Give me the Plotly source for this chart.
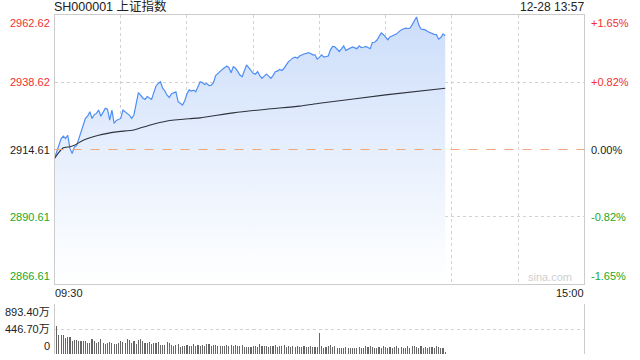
import plotly.graph_objects as go

# ---------------- data ----------------
title_text = "SH000001 上证指数"
stamp_text = "12-28 13:57"
time_labels = ["09:30", "15:00"]
prev_close = 2914.61
price_levels = [2866.61, 2890.61, 2914.61, 2938.62, 2962.62]
left_labels = ["2866.61", "2890.61", "2914.61", "2938.62", "2962.62"]
right_labels = ["-1.65%", "-0.82%", "0.00%", "+0.82%", "+1.65%"]
vol_levels = [0, 446.70, 893.40]
vol_labels = ["0", "446.70万", "893.40万"]

# minute-by-minute index price (09:30 .. 11:30, 13:01 .. 13:57)
price = [
    2911.4, 2914.0, 2916.0, 2918.5, 2919.4, 2918.5, 2919.7, 2915.0, 2913.2, 2915.5,
    2916.0, 2918.5, 2920.5, 2922.7, 2925.7, 2926.5, 2928.1, 2925.7, 2927.0, 2927.5,
    2928.7, 2926.5, 2927.8, 2929.3, 2929.0, 2925.1, 2928.7, 2923.9, 2925.0, 2925.3,
    2925.7, 2928.7, 2928.0, 2927.5, 2926.8, 2925.7, 2927.0, 2931.0, 2934.9, 2934.0,
    2933.0, 2932.5, 2933.5, 2933.0, 2932.5, 2935.0, 2937.3, 2938.2, 2938.8, 2936.5,
    2935.5, 2934.0, 2933.2, 2934.5, 2935.0, 2935.2, 2931.7, 2931.1, 2930.5, 2932.0,
    2934.5, 2935.9, 2935.5, 2935.8, 2935.2, 2937.0, 2938.8, 2938.5, 2937.8, 2938.2,
    2937.4, 2937.6, 2938.5, 2941.0, 2941.8, 2942.3, 2943.2, 2943.8, 2944.4, 2943.8,
    2942.0, 2944.2, 2943.6, 2942.5, 2941.2, 2940.6, 2943.0, 2944.8, 2943.8, 2942.8,
    2941.8, 2941.5, 2942.4, 2941.0, 2940.0, 2940.8, 2941.5, 2940.8, 2940.0, 2941.0,
    2942.4, 2942.6, 2943.2, 2942.8, 2943.6, 2944.8, 2946.0, 2946.6, 2947.3, 2947.6,
    2947.2, 2948.0, 2948.5, 2948.7, 2948.9, 2949.2, 2948.9, 2948.4, 2948.4, 2946.9,
    2947.5, 2948.4, 2947.6, 2947.8, 2948.0, 2950.2, 2951.4, 2951.3, 2950.5, 2949.6,
    2950.5, 2951.6, 2950.0, 2950.5, 2950.9, 2951.2, 2950.9, 2950.6, 2951.6, 2951.0,
    2951.1, 2951.4, 2951.0, 2950.6, 2952.8, 2952.9, 2953.6, 2954.7, 2956.2, 2955.6,
    2954.8, 2953.8, 2954.8, 2955.2, 2955.5, 2955.9, 2956.6, 2957.3, 2957.6, 2957.9,
    2957.8, 2957.9, 2959.1, 2960.5, 2961.9, 2959.1, 2957.6, 2957.5, 2957.3, 2956.7,
    2956.4, 2955.9, 2955.7, 2955.6, 2954.0, 2954.6, 2955.9, 2955.2,
]

# average price line, read at selected minutes
avg_minutes = [0, 2, 4, 7, 9, 13, 20, 28, 36, 43, 51, 61, 66, 81, 96, 111, 120, 150, 177]
avg_price = [2911.4, 2913.6, 2915.2, 2915.6, 2916.1, 2917.9, 2919.7, 2920.9, 2921.6,
             2923.3, 2924.8, 2925.6, 2925.9, 2927.7, 2929.0, 2930.1, 2931.1, 2934.1, 2936.5]

# minute volume (万)
volume = [
    893.4, 500, 340, 345, 340, 285, 300, 298, 240, 250,
    245, 230, 240, 225, 235, 205, 200, 260, 230, 205,
    220, 265, 190, 185, 190, 210, 200, 180, 170, 195,
    240, 210, 190, 265, 245, 205, 230, 175, 250, 270,
    230, 190, 200, 215, 175, 200, 190, 220, 165, 160,
    165, 210, 190, 160, 150, 160, 170, 130, 145, 145,
    160, 150, 140, 175, 145, 155, 150, 165, 145, 175,
    180, 150, 160, 165, 140, 150, 135, 140, 160, 135,
    155, 140, 165, 145, 150, 160, 120, 130, 130, 125,
    135, 140, 125, 170, 135, 150, 135, 120, 150, 140,
    165, 125, 135, 140, 165, 130, 150, 120, 140, 130,
    135, 125, 120, 150, 130, 120, 145, 125, 120, 125,
    370, 140, 110, 120, 150, 160, 120, 150, 110, 115,
    110, 115, 120, 100, 110, 105, 115, 110, 120, 110,
    115, 140, 120, 150, 130, 115, 110, 120, 110, 140,
    120, 115, 125, 110, 130, 145, 110, 120, 115, 110,
    140, 115, 150, 150, 120, 110, 140, 115, 120, 110,
    125, 130, 110, 140, 120, 100, 110, 30,
]

minutes = list(range(len(price)))
session_len = 240
grid_minutes = [30, 60, 90, 120, 150, 180, 210]

RED = "#f0302f"
GREEN = "#22a822"
BLACK = "#222222"
level_colors = [GREEN, GREEN, BLACK, RED, RED]
FONT = "Liberation Sans, Arial, Noto Sans CJK SC, sans-serif"

fig = go.Figure()

fig.add_trace(go.Scatter(
    x=minutes, y=price, mode="lines",
    line=dict(color="#4f8ef5", width=1.2),
    fill="tozeroy",
    fillgradient=dict(type="vertical", start=price_levels[0], stop=price_levels[-1],
                      colorscale=[[0, "rgb(255,255,255)"], [0.12, "rgb(250,252,255)"],
                                  [1, "rgb(204,221,250)"]]),
    hoverinfo="skip", showlegend=False, xaxis="x", yaxis="y",
))
fig.add_trace(go.Scatter(
    x=avg_minutes, y=avg_price, mode="lines",
    line=dict(color="#2d323c", width=1.1, shape="spline", smoothing=0.6),
    hoverinfo="skip", showlegend=False, xaxis="x", yaxis="y",
))
fig.add_trace(go.Bar(
    x=minutes, y=volume, width=0.5, marker=dict(color="#666666", line=dict(width=0)),
    hoverinfo="skip", showlegend=False, xaxis="x2", yaxis="y2",
))

xdom = [54.5 / 640, 584.3 / 640]
ydom_price = [1 - 284 / 360, 1 - 15 / 360]
ydom_vol = [1 - 354 / 360, 1 - 304 / 360]

grid = dict(showgrid=True, gridcolor="#d2d2d2", griddash="dot", gridwidth=1)

fig.update_layout(
    width=640, height=360,
    margin=dict(l=0, r=0, t=0, b=0),
    paper_bgcolor="white", plot_bgcolor="rgba(0,0,0,0)",
    font=dict(family=FONT, size=11, color=BLACK),
    bargap=0,
    xaxis=dict(domain=xdom, range=[0, session_len], tickvals=grid_minutes,
               showticklabels=False, ticks="", zeroline=False,
               showline=True, mirror=True, linecolor="#cccccc", linewidth=1,
               anchor="y", **grid),
    yaxis=dict(domain=ydom_price, range=[price_levels[0], price_levels[-1]],
               tickvals=[v for v in price_levels if v != prev_close],
               showticklabels=False, ticks="", zeroline=False,
               showline=True, mirror=True, linecolor="#cccccc", linewidth=1,
               anchor="x", **grid),
    xaxis2=dict(domain=xdom, range=[0, session_len], showgrid=False,
                showticklabels=False, ticks="", zeroline=False, showline=False,
                anchor="y2"),
    yaxis2=dict(domain=ydom_vol, range=[vol_levels[0], vol_levels[-1]],
                tickvals=vol_levels, showticklabels=False, ticks="", zeroline=False,
                showline=True, mirror=True, linecolor="#cccccc", linewidth=1,
                anchor="x2", **grid),
)

# previous close reference line
fig.add_shape(type="line", xref="x domain", x0=0, x1=1, yref="y", y0=prev_close, y1=prev_close,
              line=dict(color="#f0a57a", width=1, dash="dash"))

ann = []
n = len(price_levels)
for i, (lv, lt, rt, c) in enumerate(zip(price_levels, left_labels, right_labels, level_colors)):
    ya = "bottom" if i == 0 else ("top" if i == n - 1 else "middle")
    ann.append(dict(xref="x domain", x=0, xanchor="right", xshift=-3, yref="y", y=lv,
                    yanchor=ya, text=lt, showarrow=False, font=dict(color=c, size=11)))
    ann.append(dict(xref="x domain", x=1, xanchor="left", xshift=5, yref="y", y=lv,
                    yanchor=ya, text=rt, showarrow=False, font=dict(color=c, size=11)))
m = len(vol_levels)
for i, (lv, lt) in enumerate(zip(vol_levels, vol_labels)):
    ya = "bottom" if i == 0 else ("top" if i == m - 1 else "middle")
    ann.append(dict(xref="x2 domain", x=0, xanchor="right", xshift=-3, yref="y2", y=lv,
                    yanchor=ya, text=lt, showarrow=False, font=dict(color=BLACK, size=11)))

ann.append(dict(xref="x domain", x=0, xanchor="left", xshift=-2, yref="y domain", y=0,
                yanchor="top", yshift=-1, text=time_labels[0], showarrow=False,
                font=dict(size=11, color=BLACK)))
ann.append(dict(xref="x domain", x=1, xanchor="right", xshift=2, yref="y domain", y=0,
                yanchor="top", yshift=-1, text=time_labels[1], showarrow=False,
                font=dict(size=11, color=BLACK)))
ann.append(dict(xref="x domain", x=0, xanchor="left", xshift=-3, yref="y domain", y=1,
                yanchor="bottom", yshift=-1, text=title_text, showarrow=False,
                font=dict(size=12.5, color=BLACK)))
ann.append(dict(xref="x domain", x=1, xanchor="right", xshift=2, yref="y domain", y=1,
                yanchor="bottom", yshift=-1, text=stamp_text, showarrow=False,
                font=dict(size=12, color=BLACK)))
ann.append(dict(xref="x domain", x=1, xanchor="right", xshift=-10, yref="y domain", y=0,
                yanchor="bottom", yshift=-1, text="sina.com", showarrow=False,
                font=dict(size=11, color="#cfcfcf")))
fig.update_layout(annotations=ann)

fig.write_html("out.html",
               config={"displayModeBar": False, "staticPlot": True},
               post_script="document.body.style.margin='0';document.body.style.overflow='hidden';")
